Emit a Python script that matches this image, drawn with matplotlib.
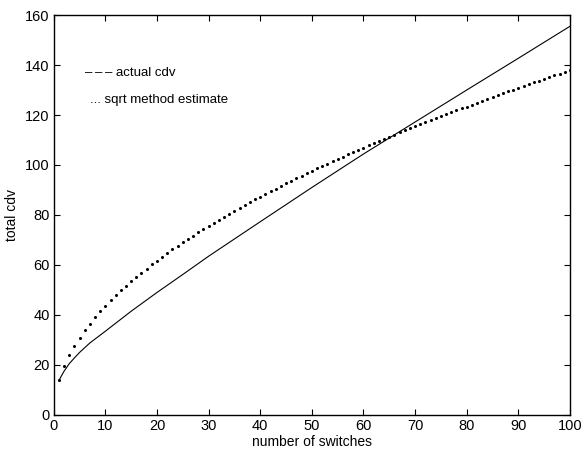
import matplotlib
matplotlib.use("Agg")
import matplotlib.pyplot as plt
import numpy as np

# actual cdv (solid line)
actual_n = [1, 2, 3, 4, 5, 7, 10, 15, 20, 25, 30, 40, 50, 60, 70, 80, 90, 100]
actual_cdv = [13.8, 17.5, 20.5, 22.8, 25.0, 28.8, 33.5, 41.5, 49.0, 56.2, 63.5,
              77.3, 91.0, 104.4, 117.2, 130.0, 142.7, 155.5]

# sqrt method estimate (one dot per switch count)
est_n = list(range(1, 101))
est_cdv = [13.8, 19.5, 23.9, 27.6, 30.9, 33.8, 36.5, 39.0, 41.4, 43.6,
           45.8, 47.8, 49.8, 51.6, 53.4, 55.2, 56.9, 58.5, 60.2, 61.7,
           63.2, 64.7, 66.2, 67.6, 69.0, 70.4, 71.7, 73.0, 74.3, 75.6,
           76.8, 78.1, 79.3, 80.5, 81.6, 82.8, 83.9, 85.1, 86.2, 87.3,
           88.4, 89.4, 90.5, 91.5, 92.6, 93.6, 94.6, 95.6, 96.6, 97.6,
           98.6, 99.5, 100.5, 101.4, 102.3, 103.3, 104.2, 105.1, 106.0, 106.9,
           107.8, 108.7, 109.5, 110.4, 111.3, 112.1, 113.0, 113.8, 114.6, 115.5,
           116.3, 117.1, 117.9, 118.7, 119.5, 120.3, 121.1, 121.9, 122.7, 123.4,
           124.2, 125.0, 125.7, 126.5, 127.2, 128.0, 128.7, 129.5, 130.2, 130.9,
           131.6, 132.4, 133.1, 133.8, 134.5, 135.2, 135.9, 136.6, 137.3, 138.0]

xticks = [0, 10, 20, 30, 40, 50, 60, 70, 80, 90, 100]
yticks = [0, 20, 40, 60, 80, 100, 120, 140, 160]

plt.rcParams['font.family'] = ['Liberation Sans', 'DejaVu Sans']

fig = plt.figure(figsize=(5.84, 4.55), dpi=100)
ax = fig.add_axes([0.092, 0.088, 0.884, 0.879])

ax.plot(actual_n, actual_cdv, color='black', linewidth=0.8)
ax.plot(est_n, est_cdv, linestyle='none', marker='o', markersize=2.2,
        color='black', markeredgewidth=0)

ax.set_xlim(0, 100)
ax.set_ylim(0, 160)
ax.set_xticks(xticks)
ax.set_yticks(yticks)
ax.tick_params(direction='in', top=True, right=True, length=4, width=0.8,
               labelsize=10.5, pad=3)
for s in ax.spines.values():
    s.set_linewidth(1.0)

ax.set_xlabel('number of switches', fontsize=10, labelpad=1)
ax.set_ylabel('total cdv', fontsize=10, labelpad=4)

# hand-written legend, as in the original
ax.text(6.0, 137, '\u2013\u2009\u2013\u2009\u2013 actual cdv', fontsize=9.5,
        va='center')
ax.text(7.0, 126, '... sqrt method estimate', fontsize=9.5, va='center')

fig.savefig('out.png', dpi=100)
